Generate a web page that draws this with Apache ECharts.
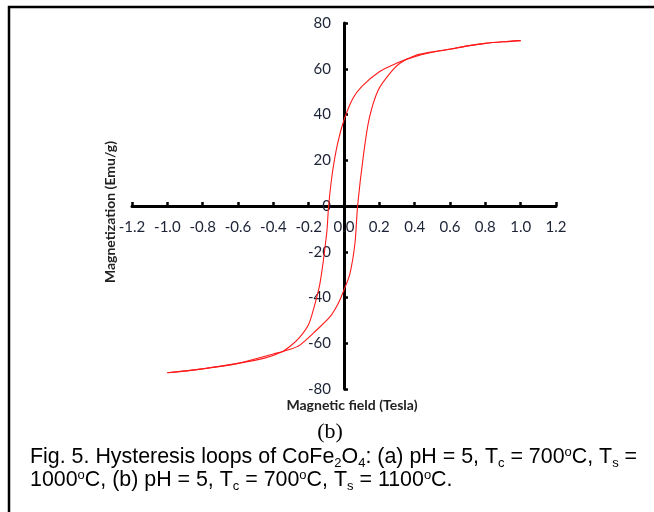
<!DOCTYPE html>
<html>
<head>
<meta charset="utf-8">
<script src="https://cdn.jsdelivr.net/npm/echarts@6/dist/echarts.min.js"></script>
<style>
  html, body { margin: 0; padding: 0; background: #fff; }
  #chart { width: 654px; height: 512px; }
</style>
</head>
<body>
<div id="chart"></div>
<script>
// descending branch (field from +1 T down to -1 T)
var upperH = [1.0, 0.9, 0.8, 0.7, 0.6, 0.5, 0.4, 0.3, 0.2, 0.1, 0.05, 0.0, -0.036, -0.066, -0.087, -0.098, -0.136, -0.174, -0.202, -0.25, -0.3, -0.35, -0.45, -0.6, -0.8, -1.0];
var upperM = [72.3, 71.8, 71.1, 70.0, 68.5, 67.2, 65.3, 62.5, 58.7, 52.2, 47.0, 37.6, 27.4, 14.3, 0, -11.9, -33.8, -45.5, -52.0, -57.3, -61.0, -63.7, -66.5, -68.8, -71.2, -72.9];
// ascending branch (field from -1 T up to +1 T)
var lowerH = [-1.0, -0.8, -0.6, -0.4, -0.3, -0.25, -0.155, -0.079, -0.032, 0.0, 0.034, 0.062, 0.077, 0.109, 0.143, 0.194, 0.26, 0.317, 0.4, 0.5, 0.6, 0.7, 0.8, 0.9, 1.0];
var lowerM = [-72.9, -71.2, -68.8, -64.7, -62.5, -60.8, -54.2, -48.4, -42.5, -36.7, -29.4, -16.3, 0, 21.6, 38.3, 50.7, 58.0, 62.4, 65.7, 67.4, 68.6, 70.0, 71.1, 71.8, 72.3];

var xTicks = [-1.2, 1.2, 0.2];   // min, max, step
var yTicks = [-80, 80, 20];

function pairs(xs, ys) {
    return xs.map(function (x, i) { return [x, ys[i]]; });
}

var chart = echarts.init(document.getElementById('chart'));

var lineStyle = { color: '#ff1a1a', width: 1.1 };
var labelColor = '#1c2336';

// grid box: x from 132 to 556, y from 23 to 389; axes cross at the origin
var option = {
    animation: false,
    backgroundColor: '#fff',
    grid: { left: 132, right: 98, top: 23, bottom: 123 },
    xAxis: {
        type: 'value',
        min: xTicks[0], max: xTicks[1], interval: xTicks[2],
        offset: -183,  // move the bottom axis up to M = 0
        axisLine: { onZero: false, lineStyle: { color: '#000', width: 3 } },
        axisTick: { inside: true, length: 4, lineStyle: { color: '#000', width: 2.5 } },
        axisLabel: {
            margin: 14, color: labelColor, fontFamily: 'Lato', fontSize: 15,
            formatter: function (v) { return v.toFixed(1); }
        },
        splitLine: { show: false }
    },
    yAxis: {
        type: 'value',
        min: yTicks[0], max: yTicks[1], interval: yTicks[2],
        offset: -212,  // move the left axis right to H = 0
        axisLine: { show: true, onZero: false, lineStyle: { color: '#000', width: 3 } },
        axisTick: { show: true, inside: true, length: 4, lineStyle: { color: '#000', width: 2.5 } },
        axisLabel: { margin: 13, color: labelColor, fontFamily: 'Lato', fontSize: 15 },
        splitLine: { show: false }
    },
    series: [
        {
            name: 'descending', type: 'line', data: pairs(upperH, upperM),
            smooth: 0.3, showSymbol: false, lineStyle: lineStyle
        },
        {
            name: 'ascending', type: 'line', data: pairs(lowerH, lowerM),
            smooth: 0.3, showSymbol: false, lineStyle: lineStyle
        }
    ],
    graphic: [
        // outer frame (only top/left edges fall inside the picture)
        {
            type: 'rect', shape: { x: 9, y: 7, width: 700, height: 600 },
            style: { fill: 'none', stroke: '#000', lineWidth: 2.5 }
        },
        {
            type: 'text', x: 110, y: 212, rotation: Math.PI / 2,
            style: {
                text: 'Magnetization (Emu/g)', fill: '#222', fontFamily: 'Lato',
                fontWeight: 'bold', fontSize: 14, align: 'center', verticalAlign: 'middle'
            }
        },
        {
            type: 'text', x: 352, y: 405,
            style: {
                text: 'Magnetic field (Tesla)', fill: '#222', fontFamily: 'Lato',
                fontWeight: 'bold', fontSize: 14, align: 'center', verticalAlign: 'middle'
            }
        },
        {
            type: 'text', x: 330, y: 432,
            style: {
                text: '(b)', fill: '#000', fontFamily: 'Liberation Serif',
                fontSize: 22, align: 'center', verticalAlign: 'middle'
            }
        },
        {
            type: 'text', x: 30, y: 446,
            style: {
                text: 'Fig. 5. Hysteresis loops of CoFe{sub|2}O{sub|4}: (a) pH = 5, T{sub|c} = 700{sup|o}C, T{sub|s} =\n' +
                      '1000{sup|o}C, (b) pH = 5, T{sub|c} = 700{sup|o}C, T{sub|s} = 1100{sup|o}C.',
                fill: '#000', fontFamily: 'Liberation Sans', fontSize: 21.4, lineHeight: 23,
                rich: {
                    sub: { fontSize: 13, fontFamily: 'Liberation Sans', verticalAlign: 'bottom', lineHeight: 23, padding: [0, 0, -1, 0] },
                    sup: { fontSize: 13, fontFamily: 'Liberation Sans', verticalAlign: 'top', lineHeight: 23 }
                }
            }
        }
    ]
};

chart.setOption(option);
</script>
</body>
</html>
